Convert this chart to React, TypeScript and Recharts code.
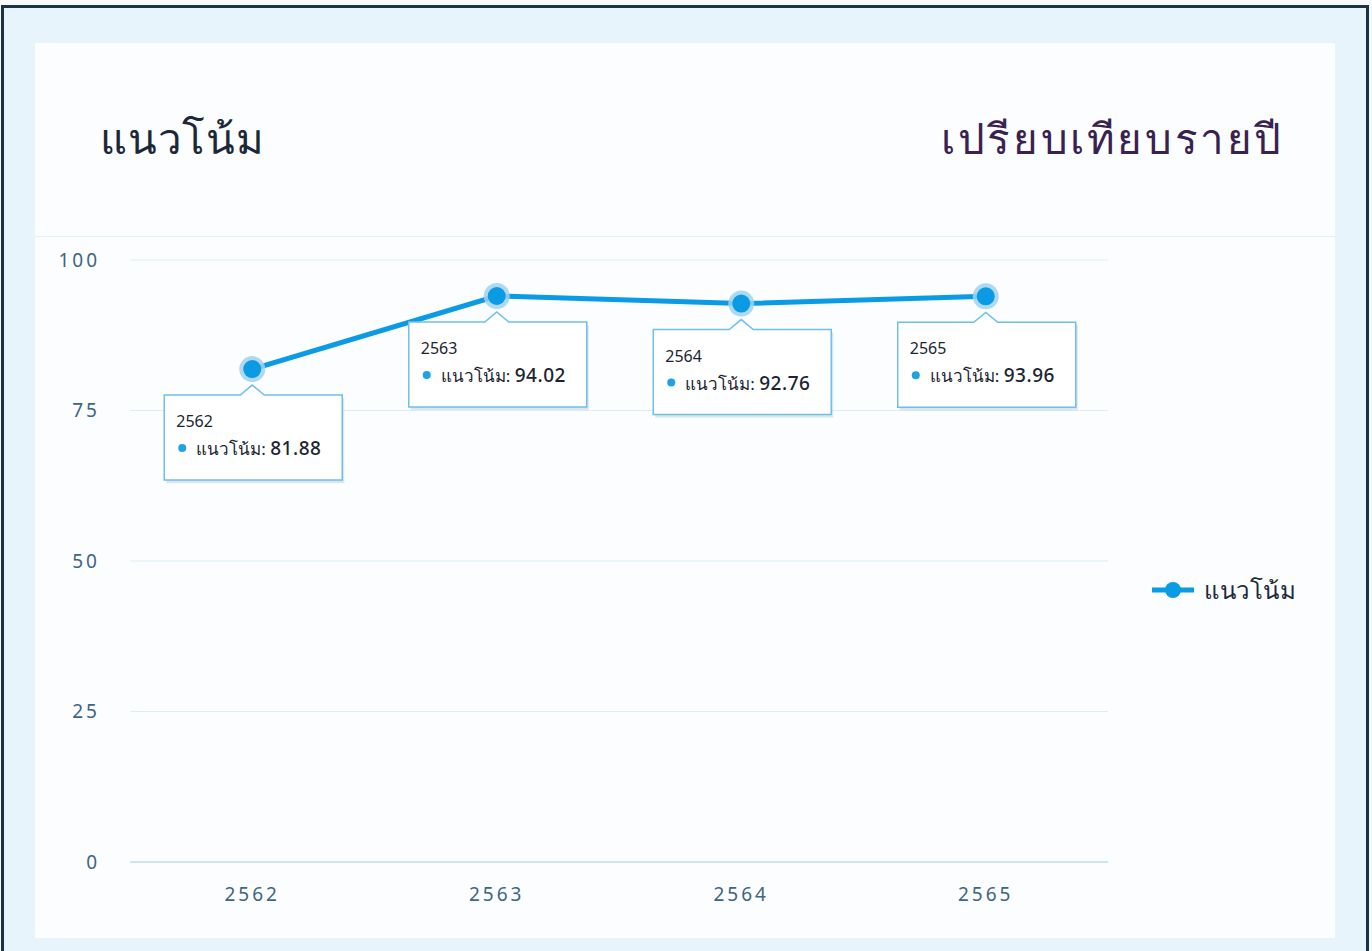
import { LineChart, Line, XAxis, YAxis, CartesianGrid, Legend, LabelList } from "recharts";

const years: string[] = ["2562", "2563", "2564", "2565"];
const trend: number[] = [81.88, 94.02, 92.76, 93.96];
const yTicks: number[] = [0, 25, 50, 75, 100];

const seriesName = "แนวโน้ม";
const data = years.map((year, i) => ({ year, value: trend[i] }));

const FONT = "'Noto Sans', 'Open Sans', sans-serif";
const BLUE = "#0b9ae4";

const Dot = (props: any) => {
  const { cx, cy } = props;
  if (cx == null || cy == null) return null;
  return (
    <g>
      <circle cx={cx} cy={cy} r={13} fill="#9fd2ef" opacity={0.85} />
      <circle cx={cx} cy={cy} r={9} fill={BLUE} />
    </g>
  );
};

// always-on tooltip box under each point
const PointLabel = (props: any) => {
  const { x, y, index } = props;
  if (x == null || y == null) return null;
  const left = x - 88;
  const top = y + 26;
  const w = 178;
  const h = 85;
  return (
    <g>
      <rect x={left + 2} y={top + 3} width={w} height={h} fill="#c9d6df" opacity={0.6} />
      <path
        d={`M${left},${top} H${x - 12} L${x},${y + 16} L${x + 12},${top} H${left + w} V${top + h} H${left} Z`}
        fill="#ffffff"
        stroke="#6cc0ea"
        strokeWidth={1.5}
      />
      <text x={left + 12} y={top + 32} fontSize={16} fill="#1b2430" fontFamily={FONT}>
        {years[index]}
      </text>
      <circle cx={left + 18} cy={top + 53} r={4} fill="#1ea2e6" />
      <text x={left + 32} y={top + 60} fontSize={17} fill="#1b2430" fontFamily={FONT}>
        {seriesName}:{" "}
        <tspan fontSize={19} fontWeight={500} letterSpacing={0.5}>
          {trend[index].toFixed(2)}
        </tspan>
      </text>
    </g>
  );
};

const LegendContent = () => (
  <div
    style={{
      display: "flex",
      alignItems: "center",
      fontFamily: FONT,
      fontSize: 24,
      color: "#1b2a3a",
      paddingLeft: 44,
      paddingTop: 20,
      whiteSpace: "nowrap",
    }}
  >
    <svg width={42} height={20} style={{ marginRight: 10, flexShrink: 0 }}>
      <line x1={0} y1={10} x2={42} y2={10} stroke={BLUE} strokeWidth={5} />
      <circle cx={21} cy={10} r={8} fill={BLUE} />
    </svg>
    <span style={{ letterSpacing: 0.5 }}>{seriesName}</span>
  </div>
);

const tickStyle = { fill: "#3e6583", fontSize: 19, fontFamily: FONT, letterSpacing: 3 };

export default function App() {
  return (
    <div
      style={{
        position: "absolute",
        left: 0,
        top: 0,
        width: 1372,
        height: 951,
        overflow: "hidden",
        background: "#f6f9fb",
      }}
    >
      <div
        style={{
          position: "absolute",
          left: 1,
          top: 5,
          width: 1362,
          height: 960,
          border: "3px solid #1a3147",
          background: "#e8f4fb",
        }}
      />
      <div
        style={{
          position: "absolute",
          left: 35,
          top: 43,
          width: 1300,
          height: 895,
          background: "#fbfdfe",
        }}
      />
      <div
        style={{
          position: "absolute",
          left: 35,
          top: 236,
          width: 1300,
          height: 1,
          background: "#e4f0f7",
        }}
      />
      <div
        style={{
          position: "absolute",
          left: 100,
          top: 106,
          fontFamily: FONT,
          fontSize: 42,
          letterSpacing: 0.8,
          color: "#1b2838",
        }}
      >
        แนวโน้ม
      </div>
      <div
        style={{
          position: "absolute",
          right: 88,
          top: 106,
          fontFamily: FONT,
          fontSize: 42,
          letterSpacing: 2.6,
          color: "#3a2250",
        }}
      >
        เปรียบเทียบรายปี
      </div>
      <div style={{ position: "absolute", left: 35, top: 230 }}>
        <LineChart width={1300} height={700} data={data} margin={{ top: 30, right: 40, left: 0, bottom: 0 }}>
          <CartesianGrid vertical={false} stroke="#dcedf7" strokeWidth={1} />
          <XAxis
            dataKey="year"
            scale="band"
            axisLine={{ stroke: "#bfe0f3", strokeWidth: 1.5 }}
            tickLine={false}
            tickMargin={20}
            height={68}
            tick={tickStyle}
          />
          <YAxis
            domain={[0, 100]}
            ticks={yTicks}
            axisLine={false}
            tickLine={false}
            tickMargin={24}
            width={95}
            tick={tickStyle}
          />
          <Legend
            layout="vertical"
            align="right"
            verticalAlign="middle"
            content={<LegendContent />}
            wrapperStyle={{ width: 187 }}
          />
          <Line
            type="linear"
            dataKey="value"
            name={seriesName}
            stroke={BLUE}
            strokeWidth={5}
            dot={<Dot />}
            activeDot={false}
            isAnimationActive={false}
          >
            <LabelList dataKey="value" content={<PointLabel />} />
          </Line>
        </LineChart>
      </div>
    </div>
  );
}
